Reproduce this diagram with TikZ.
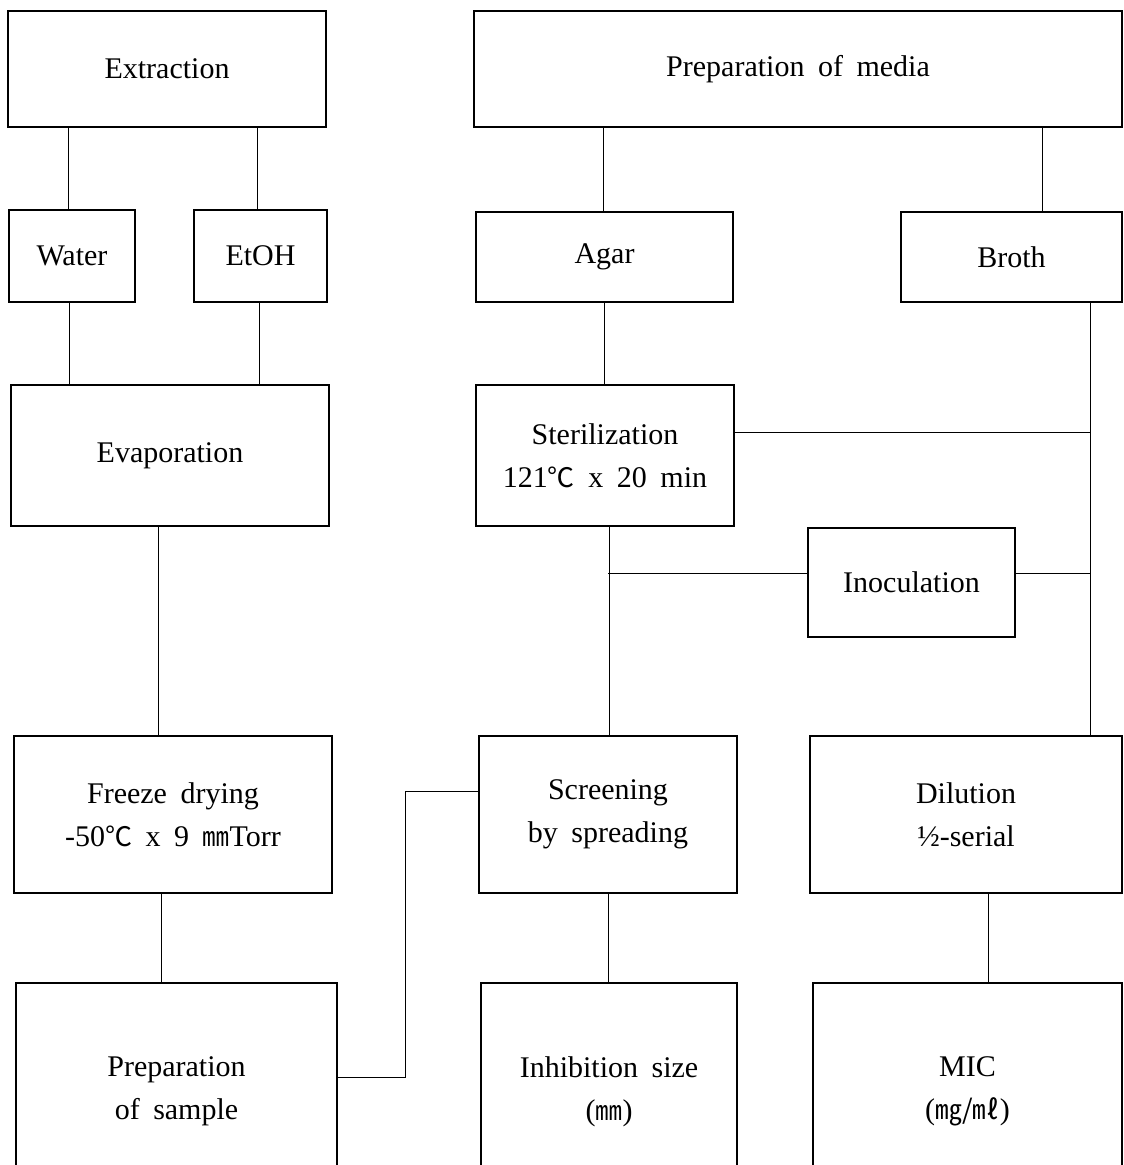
\documentclass[tikz,border=0pt]{standalone}
\usepackage{fontspec}
\setmainfont{Liberation Serif}[WordSpace=1.8]
\newfontfamily\cjk{Noto Sans CJK KR}[Scale=0.9]
\usetikzlibrary{calc}
\begin{document}
\begin{tikzpicture}[x=1pt,y=-1pt,
  box/.style={draw, line width=1.4pt, inner sep=0pt, align=center,
    font=\fontsize{30}{43}\selectfont},
  conn/.style={line width=0.9pt}]
\useasboundingbox (0,0) rectangle (1124,1165);
\clip (0,0) rectangle (1124,1165);
\fill[white] (0,0) rectangle (1124,1165);
% left column
\node[box, minimum width=318, minimum height=116] (ext) at (167,69) {Extraction};
\node[box, minimum width=126, minimum height=92] (water) at (72,256) {Water};
\node[box, minimum width=133, minimum height=92] (etoh) at (260.5,256) {EtOH};
\node[box, minimum width=318, minimum height=141] (evap) at (170,455.5) {Evaporation};
\node[box, minimum width=318, minimum height=157] (freeze) at (173,814.5) {Freeze drying\\-50{\cjk ℃} x 9 {\cjk ㎜}Torr};
\node[box, minimum width=321, minimum height=217] (sample) at (176.5,1091.5) {Preparation\\of sample};
% right part
\node[box, minimum width=648, minimum height=116] (media) at (798,69) {Preparation of media};
\node[box, minimum width=257, minimum height=90] (agar) at (604.5,257) {Agar};
\node[box, minimum width=221, minimum height=90] (broth) at (1011.5,257) {Broth};
\node[box, minimum width=258, minimum height=141] (steril) at (605,455.5) {Sterilization\\121{\cjk ℃} x 20 min};
\node[box, minimum width=207, minimum height=109] (inoc) at (911.5,582.5) {Inoculation};
\node[box, minimum width=258, minimum height=157] (screen) at (608,814.5) {Screening\\by spreading};
\node[box, minimum width=312, minimum height=157] (dil) at (966,814.5) {Dilution\\½-serial};
\node[box, minimum width=256, minimum height=217] (inhib) at (609,1091.5) {Inhibition size\\({\cjk ㎜})};
\node[box, minimum width=309, minimum height=217] (mic) at (967.5,1091.5) {MIC\\({\cjk ㎎/㎖})};
% connectors left
\draw[conn] ([xshift=-4pt]water.north) -- ([xshift=-4pt]water.north |- ext.south);
\draw[conn] ([xshift=-3.5pt]etoh.north) -- ([xshift=-3.5pt]etoh.north |- ext.south);
\draw[conn] ([xshift=-3pt]water.south) -- ([xshift=-3pt]water.south |- evap.north);
\draw[conn] ([xshift=-1.5pt]etoh.south) -- ([xshift=-1.5pt]etoh.south |- evap.north);
\draw[conn] ([xshift=-12pt]evap.south) -- ([xshift=-12pt]evap.south |- freeze.north);
\draw[conn] ([xshift=-12pt]freeze.south) -- ([xshift=-12pt]freeze.south |- sample.north);
\coordinate (bend) at (405,791);
\draw[conn] ([yshift=14.5pt]sample.east) -| (bend) -- (bend -| screen.west);
% connectors right
\draw[conn] ([xshift=-1.5pt]agar.north) -- ([xshift=-1.5pt]agar.north |- media.south);
\draw[conn] ([xshift=30.5pt]broth.north) -- ([xshift=30.5pt]broth.north |- media.south);
\draw[conn] (agar.south) -- (agar.south |- steril.north);
\draw[conn] ([xshift=78.5pt]broth.south) -- ([xshift=78.5pt]broth.south |- dil.north);
\coordinate (trunk) at ([xshift=78.5pt]broth.south);
\draw[conn] ([yshift=23.5pt]steril.east) -- ([yshift=23.5pt]steril.east -| trunk);
\draw[conn] ([xshift=4pt]steril.south) -- ([xshift=4pt]steril.south |- screen.north);
\draw[conn] ([yshift=9.5pt]inoc.west) -- ([yshift=9.5pt]inoc.west -| screen.north);
\draw[conn] ([yshift=9.5pt]inoc.east) -- ([yshift=9.5pt]inoc.east -| trunk);
\draw[conn] (screen.south) -- (screen.south |- inhib.north);
\draw[conn] ([xshift=22pt]dil.south) -- ([xshift=22pt]dil.south |- mic.north);
\end{tikzpicture}
\end{document}
